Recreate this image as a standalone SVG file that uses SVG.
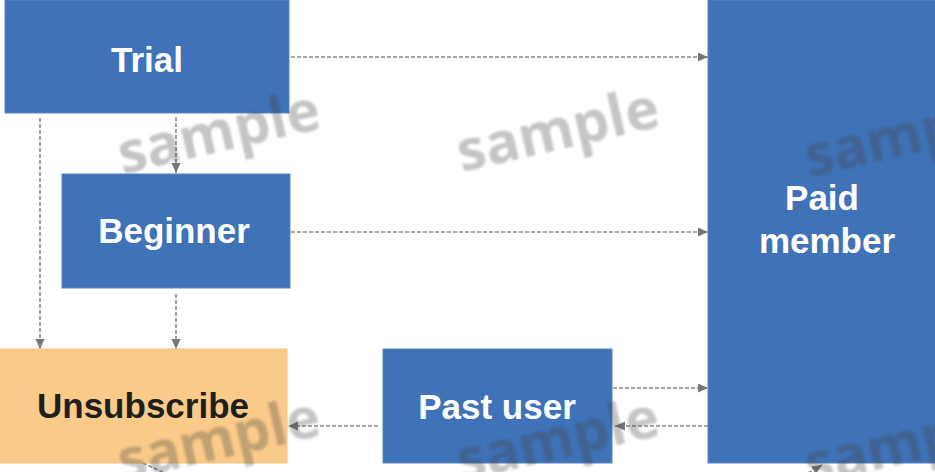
<svg xmlns="http://www.w3.org/2000/svg" width="935" height="472" viewBox="0 0 935 472">
  <style>
    .box { fill: #4072b7; stroke: #5b84c2; stroke-width: 1; }
    .box-alt { fill: #f9ca89; stroke: #f6c47c; stroke-width: 1; }
    .label { font-family: "Liberation Sans", Arial, sans-serif; font-weight: bold; font-size: 35px; text-anchor: middle; fill: #ffffff; }
    .label-dark { fill: #1e1e1e; }
    .link { fill: none; stroke: #8a8a8a; stroke-width: 1.6; stroke-dasharray: 4 2; }
    .mark { font-family: "Open Sans", "Noto Sans", sans-serif; font-weight: bold; font-size: 57px; text-anchor: middle; fill: #404040; fill-opacity: 0.3; }
  </style>
  <defs>
    <marker id="arrow" markerUnits="userSpaceOnUse" markerWidth="11" markerHeight="10" refX="10" refY="4.5" orient="auto">
      <path d="M0,0 L10,4.5 L0,9 z" fill="#777777"/>
    </marker>
    <filter id="soft" x="-10%" y="-30%" width="120%" height="160%">
      <feGaussianBlur stdDeviation="1.2"/>
    </filter>
  </defs>

  <rect width="935" height="472" fill="#ffffff"/>

  <!-- connectors -->
  <g id="connectors">
    <line class="link" x1="291" y1="57" x2="708" y2="57" marker-end="url(#arrow)"/>
    <line class="link" x1="291" y1="232" x2="708" y2="232" marker-end="url(#arrow)"/>
    <line class="link" x1="40" y1="118" x2="40" y2="349" marker-end="url(#arrow)"/>
    <line class="link" x1="176" y1="117" x2="176" y2="173" marker-end="url(#arrow)"/>
    <line class="link" x1="176" y1="294" x2="176" y2="349" marker-end="url(#arrow)"/>
    <line class="link" x1="613" y1="388" x2="708" y2="388" marker-end="url(#arrow)"/>
    <line class="link" x1="708" y1="426" x2="615" y2="426" marker-end="url(#arrow)"/>
    <line class="link" x1="378" y1="426" x2="288" y2="426" marker-end="url(#arrow)"/>
    <path class="link" d="M143,463 C300,540 700,540 822,465" marker-end="url(#arrow)"/>
  </g>

  <!-- nodes -->
  <g id="trial">
    <rect class="box" x="5" y="0" width="284" height="113"/>
    <text class="label" x="147" y="72">Trial</text>
  </g>
  <g id="beginner">
    <rect class="box" x="62" y="174" width="228" height="114"/>
    <text class="label" x="174" y="243">Beginner</text>
  </g>
  <g id="unsubscribe">
    <rect class="box-alt" x="0" y="349" width="287" height="114"/>
    <text class="label label-dark" x="143" y="418">Unsubscribe</text>
  </g>
  <g id="past-user">
    <rect class="box" x="383" y="349" width="229" height="114"/>
    <text class="label" x="497" y="419">Past user</text>
  </g>
  <g id="paid-member">
    <rect class="box" x="708" y="0" width="230" height="463"/>
    <text class="label" x="822" y="210">Paid</text>
    <text class="label" x="827" y="253">member</text>
  </g>

  <!-- watermark -->
  <g id="watermark" filter="url(#soft)">
    <text class="mark" transform="translate(223,151) rotate(-13)">sample</text>
    <text class="mark" transform="translate(562,149) rotate(-13)">sample</text>
    <text class="mark" transform="translate(910,154) rotate(-13)">sample</text>
    <text class="mark" transform="translate(223,458) rotate(-13)">sample</text>
    <text class="mark" transform="translate(562,458) rotate(-13)">sample</text>
    <text class="mark" transform="translate(910,462) rotate(-13)">sample</text>
  </g>
</svg>
